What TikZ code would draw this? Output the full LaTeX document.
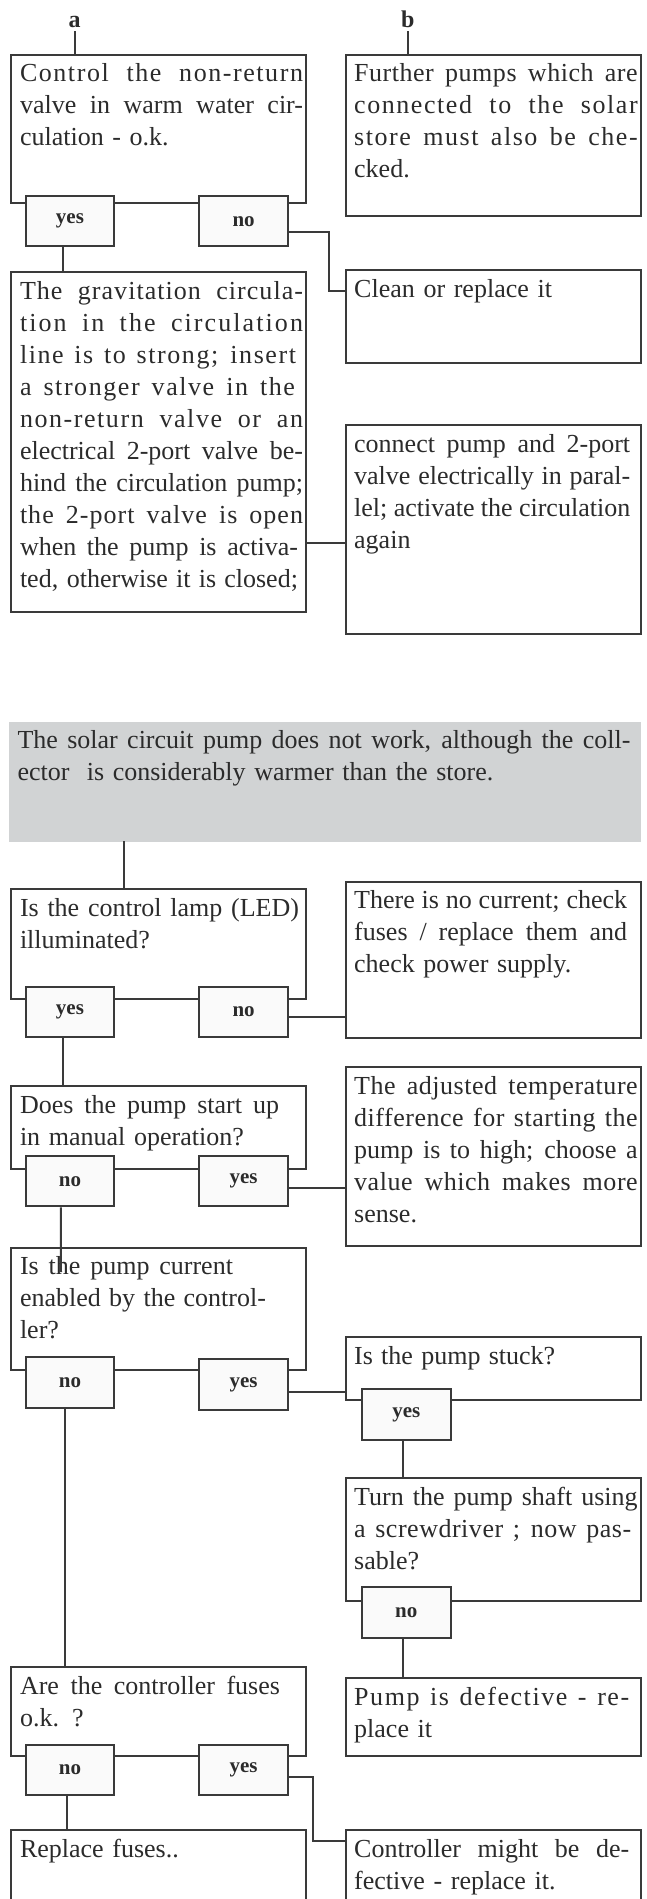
\documentclass[tikz,border=0pt]{standalone}
\usepackage{fontspec}
\setmainfont{Liberation Serif}
\usepackage{xcolor}
\usepackage{tikz}
\usetikzlibrary{positioning}
\definecolor{linegray}{HTML}{3A3A3A}
\definecolor{textgray}{HTML}{2B2B2B}
\definecolor{tagfill}{HTML}{FAFAFA}
\definecolor{bannergray}{HTML}{D1D3D4}
\newcommand{\txtw}{283pt}
\newcommand{\jl}[2][\txtw]{\makebox[#1][s]{\spaceskip=0pt\xspaceskip=0pt #2}}
\newcommand{\jt}[3][\txtw]{\makebox[#1][s]{\addfontfeature{LetterSpace=#2}\spaceskip=0pt\xspaceskip=0pt #3}}

\begin{document}
\begin{tikzpicture}[x=1pt, y=-1pt,
  box/.style={draw=linegray, line width=2pt, anchor=north west, inner sep=0pt, minimum width=295pt},
  txt/.style={anchor=north west, inner sep=0pt, text width=#1, align=left, text=textgray,
    font=\fontsize{26}{32}\selectfont, execute at begin node={\parindent=0pt\def\txtw{#1pt}\rule{0pt}{20pt}}},
  tag/.style={draw=linegray, line width=2pt, fill=tagfill, minimum width=88.7pt, minimum height=50.3pt,
    inner sep=0pt, text=textgray, font=\fontsize{21}{25}\selectfont\bfseries},
  lbl/.style={anchor=base, inner sep=3.5pt, text=textgray, font=\fontsize{24}{28}\selectfont\bfseries},
  con/.style={draw=linegray, line width=2pt}
]
\useasboundingbox (0,0) rectangle (647,1899);

\node[lbl] (la) at (74.7,27.5) {a};
\node[lbl] (lb) at (407.7,27.5) {b};

\node[box, minimum height=148.6] (valve) at (10.3,53.6) {};
\node[txt=283, below right=8pt and 9.5pt of valve.north west] (valvetxt) {\jt{6}{Control the non-return}\\ \jl{valve in warm water cir-}\\ culation - o.k.};
\node[box, minimum height=161.8] (pumps) at (344.5,53.6) {};
\node[txt=283.5, below right=8pt and 9.5pt of pumps.north west] (pumpstxt) {\jt{2}{Further pumps which are}\\ \jt{6}{connected to the solar}\\ \jt{6}{store must also be che-}\\ cked.};
\node[box, minimum height=92.9] (clean) at (344.5,269) {};
\node[txt=283.5, below right=8pt and 9.5pt of clean.north west] (cleantxt) {Clean or replace it};
\node[box, minimum height=339.7] (gravit) at (10.3,271) {};
\node[txt=283, below right=8pt and 9.5pt of gravit.north west] (gravittxt) {\jt{4}{The gravitation circula-}\\ \jt{8}{tion in the circulation}\\ \jt[276pt]{6}{line is to strong; insert}\\ \jt[275pt]{6}{a stronger valve in the}\\ \jt{6}{non-return valve or an}\\ \jl{electrical 2-port valve be-}\\ \jl{hind the circulation pump;}\\ \jt{4}{the 2-port valve is open}\\ \jl[278pt]{when the pump is activa-}\\ \jl[278pt]{ted, otherwise it is closed;}};
\node[box, minimum height=209.6] (parallel) at (344.5,423.8) {};
\node[txt=276, below right=8pt and 9.5pt of parallel.north west] (paralleltxt) {\jl{connect pump and 2-port}\\ \jl{valve electrically in paral-}\\ \jl{lel; activate the circulation}\\ again};

\node[tag] (valveyes) at (69.95,221.15) {yes};
\node[tag] (valveno) at (243.65,221.15) {no};

\draw[con] (la.south) -- (la.south |- valve.north);
\draw[con] (lb.south) -- (lb.south |- pumps.north);
\draw[con] ([xshift=-7]valveyes.south) -- ([xshift=-7]valveyes.south |- gravit.north);
\draw[con] ([yshift=-11]valveno.east) -- ++(40,0) |- ([yshift=-22]clean.north west);
\draw[con] ([yshift=-118.8]parallel.north west) -- ([yshift=-118.8]parallel.north west -| gravit.east);

\node[anchor=north west, fill=bannergray, inner sep=0pt, minimum width=631.3, minimum height=120.1] (banner) at (9.1,721.3) {};
\node[txt=613, below right=6.8pt and 8.2pt of banner.north west] (bannertxt) {\jl{The solar circuit pump does not work, although the coll-}\\ ector\ \ is considerably warmer than the store.};

\node[box, minimum height=109.8] (lamp) at (10.3,888.4) {};
\node[txt=279, below right=8pt and 9.5pt of lamp.north west] (lamptxt) {\jl{Is the control lamp (LED)}\\ illuminated?};
\node[box, minimum height=156.8] (nocurrent) at (344.5,880.6) {};
\node[txt=273, below right=8pt and 9.5pt of nocurrent.north west] (nocurrenttxt) {\jl{There is no current; check}\\ \jl{fuses / replace them and}\\ check power supply.};
\node[box, minimum height=83.4] (manual) at (10.3,1084.8) {};
\node[txt=283, below right=8pt and 9.5pt of manual.north west] (manualtxt) {\jl[259pt]{Does the pump start up}\\ in manual operation?};
\node[box, minimum height=179.1] (tempdiff) at (344.5,1066.2) {};
\node[txt=283.5, below right=8pt and 9.5pt of tempdiff.north west] (tempdifftxt) {\jt{2}{The adjusted temperature}\\ \jt{2}{difference for starting the}\\ \jl{pump is to high; choose a}\\ \jt{2}{value which makes more}\\ sense.};
\node[box, minimum height=122.2] (enabled) at (10.3,1246.6) {};
\node[txt=283, below right=8pt and 9.5pt of enabled.north west] (enabledtxt) {\jl[213pt]{Is the pump current}\\ \jl[246pt]{enabled by the control-}\\ ler?};
\node[box, minimum height=63.1] (stuck) at (344.5,1336.2) {};
\node[txt=283.5, below right=8pt and 9.5pt of stuck.north west] (stucktxt) {\jl[201pt]{Is the pump stuck?}};
\node[box, minimum height=122.5] (shaft) at (344.5,1477.3) {};
\node[txt=283.5, below right=8pt and 9.5pt of shaft.north west] (shafttxt) {\jl{Turn the pump shaft using}\\ \jt[277pt]{2}{a screwdriver ; now pas-}\\ sable?};
\node[box, minimum height=78.4] (defect) at (344.5,1677) {};
\node[txt=275, below right=8pt and 9.5pt of defect.north west] (defecttxt) {\jt{6}{Pump is defective - re-}\\ place it};
\node[box, minimum height=89.5] (fuses) at (10.3,1665.9) {};
\node[txt=283, below right=8pt and 9.5pt of fuses.north west] (fusestxt) {\jl[260pt]{Are the controller fuses}\\ o.k. ?};
\node[box, minimum height=120] (replace) at (10.3,1828.8) {};
\node[txt=283, below right=8pt and 9.5pt of replace.north west] (replacetxt) {Replace fuses..};
\node[box, minimum height=120] (ctrldef) at (344.5,1828.8) {};
\node[txt=275, below right=8pt and 9.5pt of ctrldef.north west] (ctrldeftxt) {\jl{Controller might be de-}\\ fective - replace it.};

\node[tag] (lampyes) at (69.95,1012) {yes};
\node[tag] (lampno) at (243.65,1012) {no};
\node[tag] (manualno) at (69.95,1181.15) {no};
\node[tag] (manualyes) at (243.65,1181.15) {yes};
\node[tag] (enabledno) at (69.95,1382.4) {no};
\node[tag] (enabledyes) at (243.65,1384.45) {yes};
\node[tag] (stuckyes) at (406.25,1414.35) {yes};
\node[tag] (shaftno) at (406.25,1612.4) {no};
\node[tag] (fusesno) at (69.95,1769.85) {no};
\node[tag] (fusesyes) at (243.65,1770.2) {yes};

\coordinate (bannerout) at (123.8,841.4);
\coordinate (enabledin) at (61,1272);
\draw[con] (bannerout) -- (bannerout |- lamp.north);
\draw[con] ([yshift=-4.7]lampno.east) -- ([yshift=-4.7]lampno.east -| nocurrent.west);
\draw[con] ([xshift=-7]lampyes.south) -- ([xshift=-7]lampyes.south |- manual.north);
\draw[con] ([yshift=-6.8]manualyes.east) -- ([yshift=-6.8]manualyes.east -| tempdiff.west);
\draw[con] ([xshift=-9]manualno.south) -- (enabledin);
\draw[con] ([yshift=-7.8]enabledyes.east) -- ([yshift=-7.8]enabledyes.east -| stuck.west);
\draw[con] ([xshift=-5]enabledno.south) -- ([xshift=-5]enabledno.south |- fuses.north);
\draw[con] ([xshift=-3]stuckyes.south) -- ([xshift=-3]stuckyes.south |- shaft.north);
\draw[con] ([xshift=-3]shaftno.south) -- ([xshift=-3]shaftno.south |- defect.north);
\draw[con] ([xshift=-3]fusesno.south) -- ([xshift=-3]fusesno.south |- replace.north);
\draw[con] ([yshift=-7]fusesyes.east) -- ++(24.4,0) |- ([yshift=-12]ctrldef.north west);

\end{tikzpicture}
\end{document}
